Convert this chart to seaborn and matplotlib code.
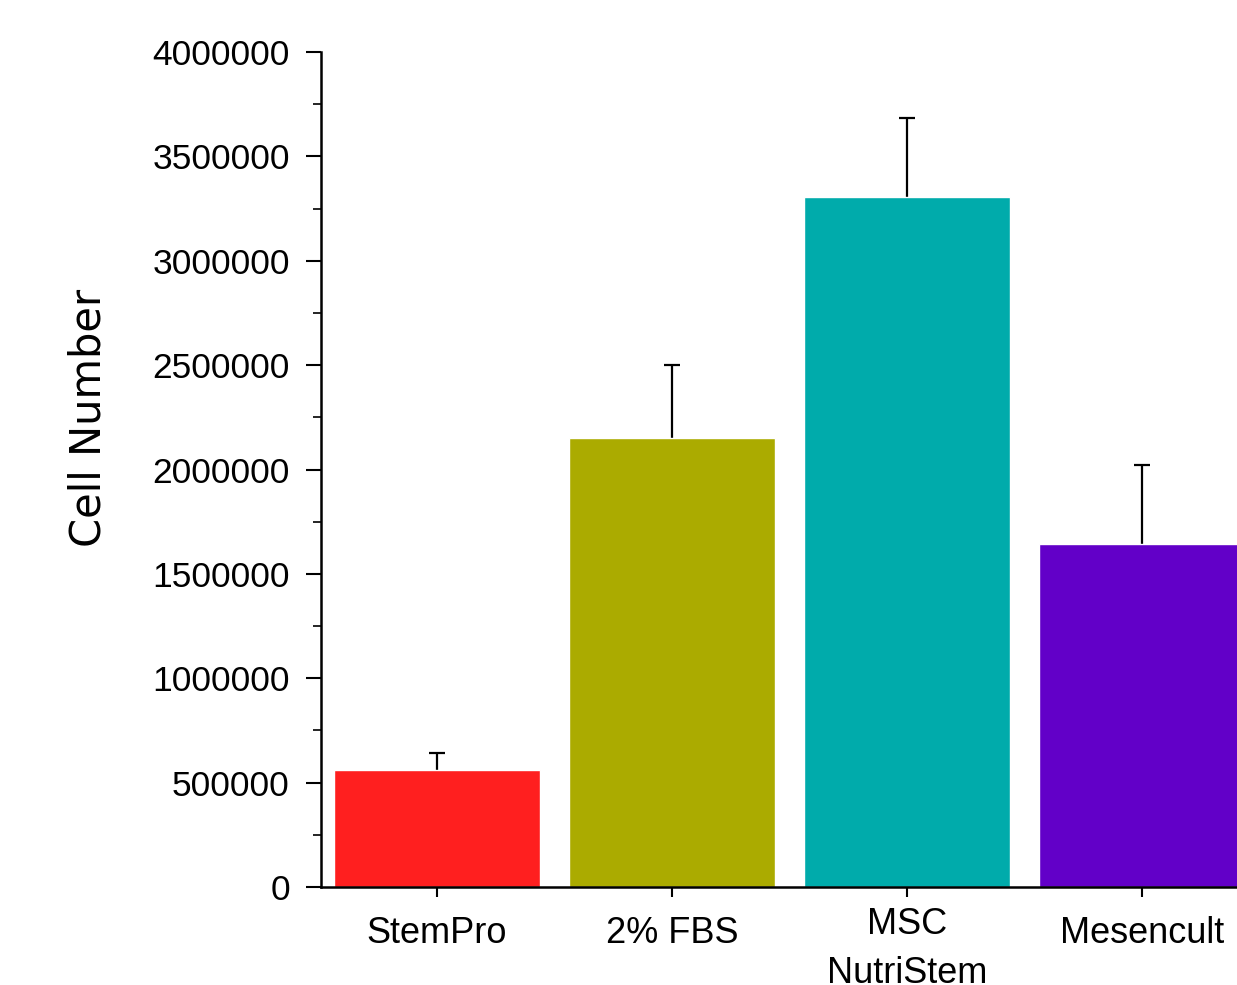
import numpy as np
import pandas as pd
import matplotlib
matplotlib.use("Agg")
import matplotlib.pyplot as plt
import seaborn as sns
from matplotlib.ticker import MultipleLocator, FuncFormatter
import matplotlib.transforms as mtransforms

# ---- data ----
categories = ["StemPro", "2% FBS", "MSC\nNutriStem", "Mesencult"]
cell_numbers = [560000, 2150000, 3305000, 1645000]
errors_upper = [80000, 350000, 380000, 375000]
bar_colors = ["#FF1F1F", "#ABAB00", "#00ABAB", "#6200C8"]
y_ticks = [0, 500000, 1000000, 1500000, 2000000, 2500000, 3000000, 3500000, 4000000]

df = pd.DataFrame({"medium": categories, "cells": cell_numbers})

sns.set_theme(style="white")
plt.rcParams["font.family"] = ["Liberation Sans", "DejaVu Sans"]

fig = plt.figure(figsize=(12.37, 9.85), dpi=100)
ax = fig.add_axes([321 / 1237, 98 / 985, 1 - 321 / 1237, (887 - 52) / 985])

# error bars (symmetric, drawn beneath the bars so only the upper half shows)
xpos = np.arange(len(categories))
ax.errorbar(xpos, cell_numbers, yerr=errors_upper,
            fmt="none", ecolor="black", elinewidth=1.6, capsize=5.8, capthick=1.6, zorder=1)

sns.barplot(data=df, x="medium", y="cells", hue="medium", palette=bar_colors,
            order=categories, hue_order=categories, width=0.877,
            errorbar=None, legend=False, saturation=1, ax=ax)
for p in ax.patches:
    p.set_zorder(3)

ax.set_xlim(-0.494, 3.404)
ax.set_ylim(0, 4000000)
ax.set_yticks(y_ticks)
ax.yaxis.set_minor_locator(MultipleLocator(250000))
ax.yaxis.set_major_formatter(FuncFormatter(lambda v, p: f"{int(round(v))}"))

for s in ["top", "right"]:
    ax.spines[s].set_visible(False)
for s in ["left", "bottom"]:
    ax.spines[s].set_color("black")
    ax.spines[s].set_linewidth(1.8)
    ax.spines[s].set_zorder(4)

ax.tick_params(axis="y", which="major", direction="out", length=10.5, width=1.5,
               color="black", left=True, labelsize=25.5, pad=12)
ax.tick_params(axis="y", which="minor", direction="out", length=5.5, width=1.2,
               color="black", left=True)
ax.tick_params(axis="x", which="major", direction="out", length=7, width=1.5,
               color="black", bottom=True, labelsize=26, pad=14)

for lab in ax.get_yticklabels() + ax.get_xticklabels():
    lab.set_color("black")
for lab in ax.get_xticklabels():
    lab.set_linespacing(1.5)
    if "\n" in lab.get_text():
        lab.set_transform(lab.get_transform() +
                          mtransforms.ScaledTranslation(0, 9 / 100, fig.dpi_scale_trans))

ax.set_xlabel("")
ax.set_ylabel("Cell Number", fontsize=30, family=["DejaVu Sans"], color="black")
ax.yaxis.set_label_coords(-0.231, 0.562)

fig.savefig("out.png", dpi=100)
